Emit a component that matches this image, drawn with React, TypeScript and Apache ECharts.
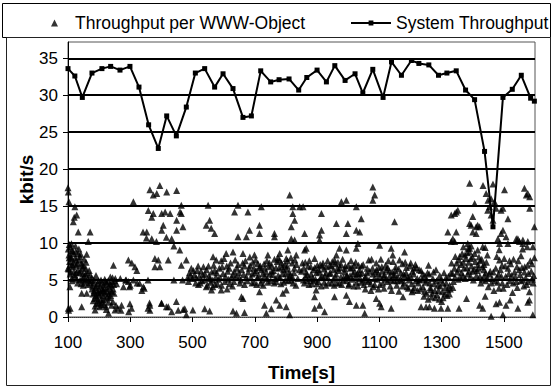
import React, { useEffect, useRef } from "react";
import * as echarts from "echarts";

const xTickLabels = [100, 300, 500, 700, 900, 1100, 1300, 1500];
const yTickLabels = [0, 5, 10, 15, 20, 25, 30, 35];
const gridValues = [5, 10, 15, 20, 25, 30, 35];

const sysTime = [100, 122, 146, 177, 209, 237, 267, 299, 328, 359, 390, 417, 448, 480, 509, 539, 571, 598, 630, 662, 689, 719, 751, 778, 810, 841, 867, 900, 930, 957, 990, 1022, 1047, 1079, 1112, 1139, 1171, 1203, 1227, 1259, 1290, 1317, 1347, 1377, 1406, 1438, 1465, 1497, 1527, 1556, 1586, 1598];
const sysRate = [33.6, 32.6, 29.7, 33.0, 33.6, 33.9, 33.4, 33.9, 31.1, 26.0, 22.8, 27.2, 24.5, 28.4, 33.0, 33.6, 31.1, 32.9, 30.9, 27.0, 27.2, 33.3, 31.8, 32.1, 32.2, 30.7, 32.4, 33.4, 31.8, 34.0, 32.0, 32.9, 30.3, 33.5, 29.7, 34.5, 32.7, 34.7, 34.3, 34.1, 32.7, 33.0, 33.3, 30.7, 29.4, 22.4, 12.2, 29.7, 30.8, 32.7, 29.6, 29.2];

const objA = [[100,17.5],[101,16.9],[103,15.6],[104,8],[105,7.5],[102,6.5],[106,4.1],[101,1.2],[102,0.9],[117,12.9],[120,13.5],[122,14.9],[128,13.8],[133,11.5],[171,11.5],[165,10.2],[108,9.5],[112,9.0],[118,8.6],[110,7.9],[126,7.7],[138,8.2],[143,7.3],[100,6.6],[116,6.8],[132,6.4],[148,5.9],[157,6.6],[171,5.7],[122,5.4],[139,5.0],[154,5.0],[112,5.2],[127,6.0],[145,7.0],[135,9.2],[125,8.9],[160,8.5],[152,7.8],[176,5.3],[182,4.6],[188,4.0],[194,3.5],[200,3.0],[205,2.4],[210,3.8],[215,4.4],[220,3.2],[226,2.7],[232,4.1],[238,3.6],[244,2.1],[180,3.1],[186,2.5],[192,1.8],[198,4.9],[203,4.2],[208,1.6],[213,2.9],[218,5.1],[224,4.6],[230,2.0],[236,5.4],[242,4.8],[248,3.2],[196,2.2],[211,3.5],[222,1.4],[190,5.6],[144,3.2],[160,3.2],[107,1.2],[144,1.4],[246,7.0],[254,1.6],[260,1.2],[270,0.9],[295,0.7],[223,1.0],[230,0.5],[240,1.6],[251,0.95],[272,1.6],[187,0.95]];
const objA2 = [[104,9.8],[109,8.2],[114,7.1],[119,6.2],[124,9.6],[130,7.2],[136,6.0],[141,8.5],[147,6.6],[152,5.5],[158,7.4],[163,5.2],[168,6.3],[107,5.8],[113,4.9],[131,4.6],[149,4.3],[178,4.2],[184,3.6],[189,2.9],[195,4.5],[201,3.7],[206,5.0],[212,2.3],[217,3.9],[221,4.8],[227,3.4],[233,2.6],[239,4.3],[245,3.8],[250,4.9],[187,1.5],[199,1.9],[216,1.7]];
const objA3 = [[101,9.2],[103,8.4],[106,7.0],[109,6.1],[111,9.9],[115,8.9],[118,7.4],[121,5.7],[123,8.0],[127,7.0],[129,5.1],[133,8.6],[136,7.7],[140,6.2],[142,4.5],[146,5.2],[150,6.9],[153,4.7],[156,5.8],[161,6.0],[164,4.4],[167,5.0],[170,4.6],[174,4.9],[177,3.8],[181,2.2],[183,5.0],[185,3.3],[191,4.2],[193,2.6],[197,3.2],[202,1.4],[204,3.3],[207,4.6],[209,2.0],[214,3.6],[219,2.4],[225,3.9],[229,4.9],[231,3.1],[235,4.5],[237,2.9],[241,3.4],[243,5.3],[247,4.4],[252,5.2]];
const objB = [[256,4.5],[278,4.1],[294,4.8],[310,5.0],[337,3.6],[342,4.1],[268,5.2],[285,5.0],[300,4.3],[322,4.6],[294,7.7],[305,7.3],[315,6.8],[321,6.3],[299,1.8],[304,1.2],[363,1.6],[363,0.9],[401,1.85],[422,1.4],[433,0.7],[454,0.9],[310,15.6],[363,17.2],[374,16.5],[385,16.7],[395,17.8],[417,16.9],[449,17.1],[358,14.4],[369,13.5],[374,14.0],[401,14.0],[412,14.2],[428,14.0],[449,13.1],[460,14.2],[353,11.5],[369,10.6],[401,11.75],[406,12.4],[433,10.6],[449,11.75],[379,7.9],[390,7.7],[422,7.7],[395,6.8],[379,6.8],[341,11.5],[352,10.7],[384,10.2],[416,10.8],[440,9.6],[287,5.0],[298,4.1],[330,4.55],[345,3.9],[357,5.0],[440,5.0],[468,5.0],[357,1.2],[362,1.9],[400,1.85],[416,1.4],[448,2.1],[470,1.0],[480,0.3]];
const objC = [[464,15.1],[464,14.0],[469,12.2],[550,15.1],[646,15.1],[721,14.9],[635,14.2],[678,14.2],[555,13.1],[544,12.4],[560,12.0],[571,11.3],[715,12.4],[715,11.3],[683,11.75],[673,10.85],[646,10.85],[763,10.85],[763,11.3],[459,9.05],[480,7.7],[464,7.0],[566,8.15],[576,7.7],[608,8.6],[630,8.8],[662,8.6],[699,8.4],[742,8.4],[780,8.6],[806,9.05],[833,8.4],[710,7.25],[780,7.7],[801,7.9],[490,6.0],[500,5.2],[510,4.6],[515,6.3],[522,5.5],[530,4.9],[535,6.8],[540,5.8],[548,4.3],[555,5.2],[562,6.1],[568,7.0],[575,5.4],[580,4.5],[586,6.6],[592,7.6],[598,5.9],[604,4.8],[610,6.9],[616,5.1],[622,7.3],[628,4.2],[634,6.2],[640,5.5],[646,7.1],[652,4.6],[658,6.4],[664,5.7],[670,7.6],[676,4.9],[682,6.6],[688,5.3],[694,7.4],[700,6.0],[706,4.4],[712,5.6],[718,6.9],[724,5.0],[730,7.2],[736,6.1],[742,4.7],[748,5.8],[754,7.0],[760,6.3],[766,5.2],[772,7.5],[778,6.6],[784,4.5],[790,5.9],[796,7.1],[802,6.5],[808,4.9],[814,5.6],[820,7.3],[826,6.0],[832,4.3],[544,4.1],[565,4.1],[592,3.65],[561,3.65],[657,2.75],[662,2.5],[715,3.4],[769,2.3],[801,3.65],[790,3.2],[475,1.1],[501,0.95],[539,1.1],[555,0.8],[630,0.8],[667,0.6],[641,0.5],[731,1.6],[753,1.1],[780,1.6],[801,1.4],[737,0.5],[812,0.3]];
const objC2 = [[484,5.3],[496,6.6],[506,5.7],[519,4.4],[527,6.2],[538,5.0],[551,6.9],[558,4.7],[571,6.3],[583,5.1],[595,6.8],[601,7.9],[613,6.2],[619,4.5],[631,5.7],[637,7.7],[649,6.0],[655,5.0],[667,6.9],[673,5.4],[685,7.0],[691,4.6],[697,6.6],[703,7.7],[709,5.3],[721,6.4],[727,4.3],[733,5.5],[739,7.6],[745,6.8],[751,4.9],[757,5.7],[763,7.8],[769,4.8],[775,5.6],[787,6.8],[793,4.7],[799,5.8],[805,7.6],[811,6.1],[817,5.0],[823,4.6],[829,7.7]];
const objC3 = [[487,4.8],[493,5.6],[503,6.3],[512,5.3],[518,6.9],[525,4.6],[533,5.7],[545,6.4],[553,5.6],[565,5.0],[572,4.4],[578,6.0],[589,5.3],[593,4.3],[606,5.5],[611,3.8],[618,6.6],[625,5.4],[633,4.8],[643,6.6],[650,5.3],[661,7.3],[667,4.4],[679,6.1],[684,8.1],[692,5.8],[698,4.7],[704,6.3],[714,6.7],[719,4.6],[726,5.9],[732,6.6],[740,5.2],[747,7.3],[755,6.2],[762,4.6],[768,6.7],[774,8.0],[781,5.4],[786,7.3],[792,6.4],[798,5.0],[804,6.9],[810,5.5],[816,8.0],[821,5.4],[827,6.6],[834,7.1],[838,5.2],[843,6.4]];
const objD = [[812,16.5],[822,14.9],[822,14.0],[828,13.1],[817,12.2],[817,10.6],[828,10.4],[1079,17.6],[1085,16.5],[1079,15.8],[978,15.6],[994,15.8],[1026,14.9],[844,14.9],[855,14.9],[914,14.0],[962,12.65],[999,12.65],[1042,13.3],[1149,12.9],[994,11.3],[1026,11.75],[1037,11.5],[914,11.75],[908,11.1],[860,11.3],[908,10.4],[865,9.3],[860,9.05],[972,9.3],[994,9.05],[1031,9.95],[1101,9.7],[1138,9.3],[1143,8.4],[1181,8.8],[1026,9.3],[962,8.4],[956,7.7],[850,6.2],[856,5.0],[862,7.4],[868,5.7],[874,4.4],[880,6.8],[886,5.3],[892,7.9],[898,6.0],[904,4.8],[910,7.1],[916,5.5],[922,6.5],[928,4.3],[934,7.6],[940,5.9],[946,6.9],[952,5.1],[958,7.2],[964,4.6],[970,6.3],[976,5.4],[982,7.8],[988,6.1],[994,4.9],[1000,7.0],[1006,5.6],[1012,6.7],[1018,4.2],[1024,7.4],[1030,5.8],[1036,6.4],[1042,4.7],[1048,7.1],[1054,5.3],[1060,6.0],[1066,7.7],[1072,4.5],[1078,6.6],[1084,5.2],[1090,7.3],[1096,5.9],[1102,4.4],[1108,6.8],[1114,5.5],[1120,7.0],[1126,4.8],[1132,6.2],[1138,5.0],[1144,7.5],[1150,5.7],[1156,4.3],[1162,6.5],[1168,5.1],[1174,7.2],[1180,4.6],[1186,6.0],[1192,5.4],[1198,6.9],[1204,4.5],[1210,5.8],[1216,7.1],[1222,5.2],[1228,6.4],[897,3.65],[956,2.75],[994,2.95],[1004,2.1],[1090,2.5],[1101,1.85],[1106,1.4],[892,2.75],[892,1.2],[908,1.6],[924,0.7],[1026,1.6],[1047,1.6],[1138,1.2],[1053,0.5],[1176,2.75],[1208,3.65]];
const objD2 = [[853,7.3],[859,4.6],[865,6.1],[871,6.9],[877,5.2],[883,4.5],[889,6.4],[895,5.1],[901,7.0],[907,6.1],[913,4.2],[919,7.3],[925,5.6],[931,6.8],[937,4.6],[943,6.0],[949,7.5],[955,4.3],[961,5.8],[967,7.4],[973,6.7],[979,4.4],[985,5.3],[991,6.9],[997,5.6],[1003,4.5],[1009,7.6],[1015,5.9],[1021,6.2],[1027,4.7],[1033,7.0],[1039,5.2],[1045,6.0],[1051,4.4],[1057,5.4],[1063,4.8],[1069,6.2],[1075,7.8],[1081,4.1],[1087,6.1],[1093,5.1],[1099,6.7],[1105,7.8],[1111,4.6],[1117,5.7],[1123,6.4],[1129,7.6],[1135,4.2],[1141,6.1],[1147,4.9],[1153,6.8],[1159,5.4],[1165,7.7],[1171,4.9],[1177,5.8],[1183,7.4],[1189,4.1],[1195,5.0],[1201,7.3],[1207,6.2],[1213,4.0],[1219,6.7],[1225,4.6]];
const objD3 = [[857,6.6],[863,5.5],[869,4.9],[875,7.6],[881,5.8],[887,4.9],[893,6.7],[899,4.5],[905,6.4],[911,5.3],[917,6.9],[923,4.7],[929,6.0],[935,5.3],[941,7.0],[947,4.6],[953,6.4],[959,5.4],[965,6.6],[971,4.6],[977,7.1],[983,5.0],[989,6.5],[995,5.6],[1001,4.3],[1007,6.6],[1013,5.1],[1019,7.0],[1025,5.6],[1031,4.2],[1037,5.9],[1043,6.9],[1049,5.0],[1055,3.8],[1061,6.6],[1067,5.0],[1073,3.6],[1079,5.8],[1085,4.4],[1091,6.4],[1097,3.8],[1103,5.5],[1109,6.2],[1115,3.9],[1121,5.1],[1127,6.7],[1133,5.5],[1139,3.6],[1145,5.6],[1151,6.3],[1157,4.9],[1163,3.5],[1169,6.0],[1175,4.2],[1181,5.6],[1187,6.7],[1193,3.9],[1199,5.6],[1205,3.4],[1211,6.6],[1217,4.9],[1223,3.6],[1229,5.0]];
const objE = [[1347,14.2],[1331,13.8],[1352,14.45],[1400,13.6],[1390,12.65],[1411,12.2],[1416,12.4],[1400,11.5],[1448,14.45],[1459,13.8],[1465,13.1],[1513,13.3],[1320,11.5],[1347,11.5],[1336,10.6],[1331,10.2],[1384,9.95],[1390,9.3],[1416,9.05],[1432,9.5],[1481,10.6],[1507,10.85],[1486,9.95],[1545,10.6],[1561,9.95],[1577,10.2],[1593,9.5],[1390,18.1],[1433,17.8],[1465,18.0],[1502,17.2],[1566,17.4],[1572,16.5],[1577,16.7],[1583,16.25],[1443,16.7],[1449,15.8],[1459,16.0],[1470,15.6],[1406,15.35],[1454,14.9],[1475,14.7],[1491,14.45],[1497,14.7],[1583,14.7],[1342,14.0],[1395,12.4],[1422,12.2],[1411,11.3],[1497,11.75],[1491,11.3],[1598,12.2],[1342,10.2],[1540,10.6],[1561,10.4],[1550,10.2],[1513,9.95],[1370,9.5],[1385,9.3],[1395,9.6],[1440,9.4],[1485,9.1],[1575,9.5],[1560,9.2],[1234,6.3],[1240,4.1],[1246,5.6],[1252,3.2],[1258,7.0],[1262,4.6],[1268,2.7],[1272,5.2],[1278,3.6],[1282,6.4],[1288,4.3],[1292,2.4],[1298,5.0],[1302,3.4],[1308,6.0],[1312,4.0],[1318,2.9],[1322,5.5],[1328,3.8],[1332,7.3],[1338,4.8],[1344,8.2],[1350,6.1],[1356,7.7],[1360,5.3],[1366,8.6],[1372,6.6],[1378,7.9],[1384,5.8],[1390,8.8],[1396,6.9],[1402,5.0],[1408,7.5],[1414,6.3],[1420,8.1],[1426,4.6],[1432,6.8],[1438,5.6],[1444,7.4],[1450,4.1],[1456,6.2],[1462,5.2],[1468,3.6],[1474,6.6],[1480,4.7],[1486,7.7],[1492,5.5],[1498,3.9],[1504,6.9],[1510,4.4],[1516,5.9],[1522,7.2],[1528,3.3],[1534,6.1],[1540,4.8],[1546,7.6],[1552,5.7],[1558,6.7],[1564,4.2],[1570,5.3],[1576,7.0],[1582,3.4],[1588,6.2],[1594,4.6],[1598,8.0],[1234,1.4],[1250,1.4],[1261,1.4],[1277,1.2],[1298,1.2],[1320,1.2],[1356,1.2],[1422,1.6],[1432,1.2],[1475,1.8],[1486,2.0],[1507,1.6],[1545,1.2],[1577,2.0],[1582,2.3],[1459,0.1],[1497,0.3],[1593,0.3],[1380,2.5],[1440,2.8],[1520,2.3]];
const objE2 = [[1237,5.1],[1243,2.8],[1249,4.7],[1255,6.0],[1265,3.7],[1275,4.5],[1285,3.0],[1295,4.2],[1305,2.6],[1315,4.6],[1325,3.1],[1335,5.9],[1341,6.6],[1353,5.1],[1363,7.1],[1369,5.6],[1375,8.4],[1381,6.7],[1387,7.4],[1393,5.5],[1399,8.1],[1405,6.5],[1417,7.1],[1423,5.5],[1429,7.8],[1435,6.4],[1441,4.9],[1447,8.4],[1453,5.8],[1471,4.9],[1477,8.2],[1483,5.8],[1489,6.4],[1495,4.6],[1501,7.9],[1513,6.6],[1519,4.9],[1525,5.6],[1531,7.8],[1537,5.4],[1543,4.0],[1549,6.4],[1555,8.3],[1561,5.0],[1567,6.8],[1573,4.4],[1579,5.9],[1585,7.6],[1591,5.1]];
const objE3 = [[1232,3.8],[1239,5.8],[1245,3.5],[1251,5.0],[1257,2.4],[1260,5.8],[1264,4.0],[1270,3.2],[1274,6.1],[1280,2.6],[1284,4.9],[1290,3.6],[1294,5.6],[1300,2.1],[1304,4.6],[1310,3.1],[1314,5.3],[1320,3.7],[1326,4.3],[1330,6.0],[1336,4.0],[1343,5.4],[1348,7.3],[1354,6.5],[1358,8.2],[1364,6.0],[1370,7.4],[1376,5.2],[1382,8.7],[1388,6.2],[1394,7.9],[1400,6.2],[1406,8.6],[1412,5.6],[1418,6.6],[1424,7.6],[1430,5.1],[1436,7.1],[1442,6.0],[1448,5.2],[1460,4.6],[1466,6.1],[1478,5.4],[1484,3.9],[1494,7.0],[1506,5.5],[1518,7.6],[1530,4.6],[1542,6.8],[1554,4.9],[1566,6.1],[1578,4.8],[1590,7.2],[1596,5.6]];

const FONT = "Liberation Sans, Arial, sans-serif";

export default function App() {
  const ref = useRef<HTMLDivElement>(null);
  useEffect(() => {
    if (!ref.current) return;
    const chart = echarts.init(ref.current, null, { renderer: "svg" });
    const objData = [...objA, ...objA2, ...objA3, ...objB, ...objC, ...objC2, ...objC3, ...objD, ...objD2, ...objD3, ...objE, ...objE2, ...objE3];
    const sysData = sysTime.map((t, i) => [t, sysRate[i]]);
    chart.setOption({
      animation: false,
      backgroundColor: "#fff",
      textStyle: { fontFamily: FONT, color: "#000" },
      grid: { left: 68, right: 19, top: 42, bottom: 71, show: true, borderColor: "#555", borderWidth: 1, backgroundColor: "transparent" },
      graphic: [
        { type: "rect", shape: { x: 2.5, y: 3.5, width: 548, height: 34 }, style: { fill: "none", stroke: "#000", lineWidth: 1 }, silent: true },
        { type: "rect", shape: { x: 6.5, y: 37.5, width: 544, height: 348 }, style: { fill: "none", stroke: "#222", lineWidth: 1 }, silent: true },
      ],
      legend: [
        {
          data: ["Throughput per WWW-Object"],
          left: 46, top: 9, itemWidth: 7, itemHeight: 7,
          textStyle: { fontFamily: FONT, fontSize: 17.5, color: "#000", padding: [0, 0, 0, 12] },
        },
        {
          data: ["System Throughput"],
          left: 345, top: 9, itemWidth: 40, itemHeight: 6,
          textStyle: { fontFamily: FONT, fontSize: 17.5, color: "#000" },
        },
      ],
      xAxis: {
        type: "value", min: 100, max: 1600,
        name: "Time[s]", nameLocation: "middle", nameGap: 46, nameMoveOverlap: false,
        nameTextStyle: { fontFamily: FONT, fontSize: 19, fontWeight: "bold", color: "#000" },
        axisLine: { show: true, lineStyle: { color: "#333", width: 1, type: "dotted" } },
        axisTick: { show: true, length: 5, inside: false, customValues: xTickLabels, lineStyle: { color: "#000" } },
        axisLabel: { customValues: xTickLabels, margin: 17, fontSize: 17, fontFamily: FONT, color: "#000", formatter: (v: number) => String(v) },
        splitLine: { show: false },
      },
      yAxis: {
        type: "value", min: 0, max: 37.2,
        name: "kbit/s", nameLocation: "middle", nameGap: 32, nameRotate: 90, nameMoveOverlap: false,
        nameTextStyle: { fontFamily: FONT, fontSize: 19, fontWeight: "bold", color: "#000" },
        axisLine: { show: true, lineStyle: { color: "#000", width: 1 } },
        axisTick: { show: true, length: 5, customValues: yTickLabels, lineStyle: { color: "#000" } },
        axisLabel: { customValues: yTickLabels, margin: 10, fontSize: 17, fontFamily: FONT, color: "#000", formatter: (v: number) => String(v) },
        splitLine: { show: false },
      },
      series: [
        {
          name: "Throughput per WWW-Object",
          type: "scatter",
          symbol: "triangle",
          symbolSize: 7,
          itemStyle: { color: "#000" },
          data: objData,
          markLine: {
            silent: true,
            symbol: ["none", "none"],
            label: { show: false },
            lineStyle: { color: "#000", width: 2, type: "solid" },
            data: gridValues.map((v) => ({ yAxis: v })),
          },
        },
        {
          name: "System Throughput",
          type: "line",
          symbol: "rect",
          symbolSize: 5,
          lineStyle: { color: "#000", width: 2 },
          itemStyle: { color: "#000" },
          data: sysData,
        },
      ],
    });
    return () => chart.dispose();
  }, []);
  return <div ref={ref} style={{ position: "fixed", left: 0, top: 0, width: 554, height: 388 }} />;
}
